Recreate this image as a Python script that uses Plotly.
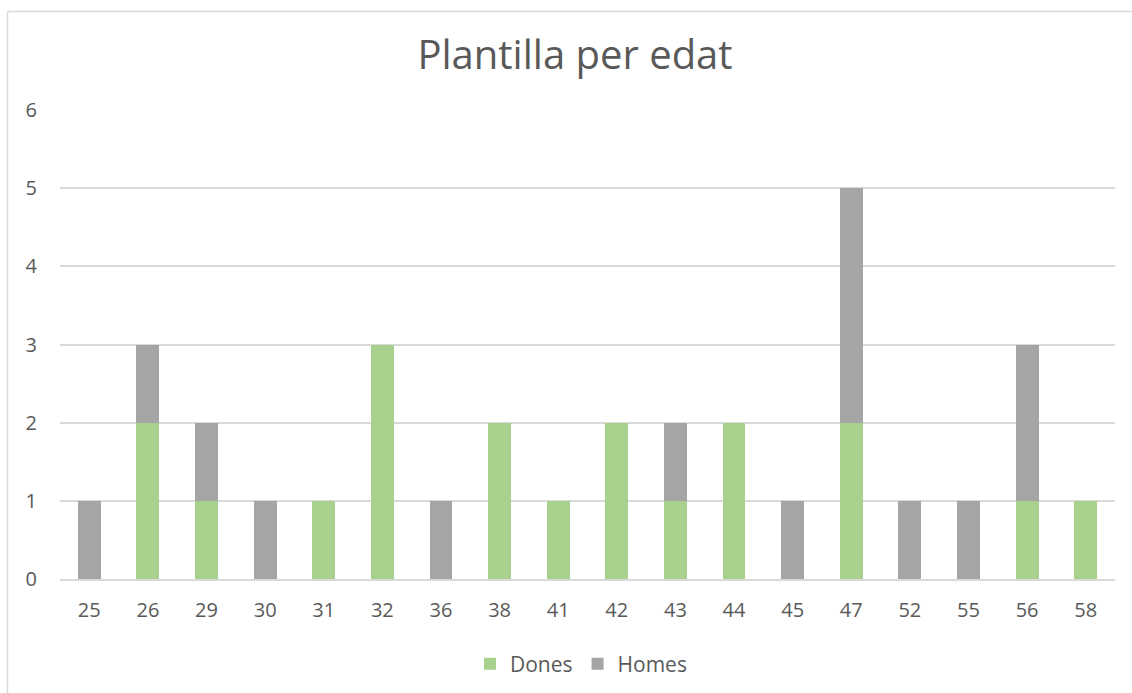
import plotly.graph_objects as go

# Age groups and headcount per group
ages = ["25", "26", "29", "30", "31", "32", "36", "38", "41", "42",
        "43", "44", "45", "47", "52", "55", "56", "58"]
dones = [0, 2, 1, 0, 1, 3, 0, 2, 1, 2, 1, 2, 0, 2, 0, 0, 1, 1]
homes = [1, 1, 1, 1, 0, 0, 1, 0, 0, 0, 1, 0, 1, 3, 1, 1, 2, 0]

W, H = 1132, 693
L, R, T, B = 60, 17, 110, 114
FONT = "Open Sans"
TXT = "#595959"

fig = go.Figure()
fig.add_trace(go.Bar(name="Dones", x=ages, y=dones, marker=dict(color="#A9D18E", line=dict(width=0))))
fig.add_trace(go.Bar(name="Homes", x=ages, y=homes, marker=dict(color="#A5A5A5", line=dict(width=0))))

pw, ph = W - L - R, H - T - B

def px_x(v):
    return (v - L) / pw

def px_y(v):
    return (H - B - v) / ph

# chart frame (left and top edges)
frame = "#D9D9D9"
shapes = [
    dict(type="line", xref="paper", yref="paper", x0=px_x(7.5), x1=px_x(7.5),
         y0=px_y(11.5), y1=px_y(700), line=dict(color=frame, width=1.5)),
    dict(type="line", xref="paper", yref="paper", x0=px_x(7.5), x1=px_x(1140),
         y0=px_y(11.5), y1=px_y(11.5), line=dict(color=frame, width=1.5)),
]

fig.update_layout(
    width=W, height=H,
    margin=dict(l=L, r=R, t=T, b=B, autoexpand=False),
    barmode="stack",
    bargap=0.61,
    paper_bgcolor="white",
    plot_bgcolor="white",
    font=dict(family=FONT, color=TXT, size=20),
    title=dict(text="Plantilla per edat", x=575 / W, xanchor="center",
               y=1 - 55 / H, yanchor="middle",
               font=dict(family=FONT, size=40, color=TXT)),
    xaxis=dict(type="category", showgrid=False, showline=True,
               linecolor="#D9D9D9", linewidth=1.5, ticks="",
               tickfont=dict(size=20, color=TXT), ticklabelstandoff=12),
    yaxis=dict(range=[0, 6], dtick=1, showgrid=True, gridcolor="#D9D9D9",
               gridwidth=1.5, zeroline=False, showline=False, ticks="",
               tickfont=dict(size=20, color=TXT), ticklabelstandoff=22),
    legend=dict(orientation="h", x=px_x(581), xanchor="center",
                y=px_y(664), yanchor="middle",
                font=dict(size=21, color=TXT), traceorder="normal",
                itemwidth=30),
    shapes=shapes,
    showlegend=True,
)

fig.write_html("out.html")
